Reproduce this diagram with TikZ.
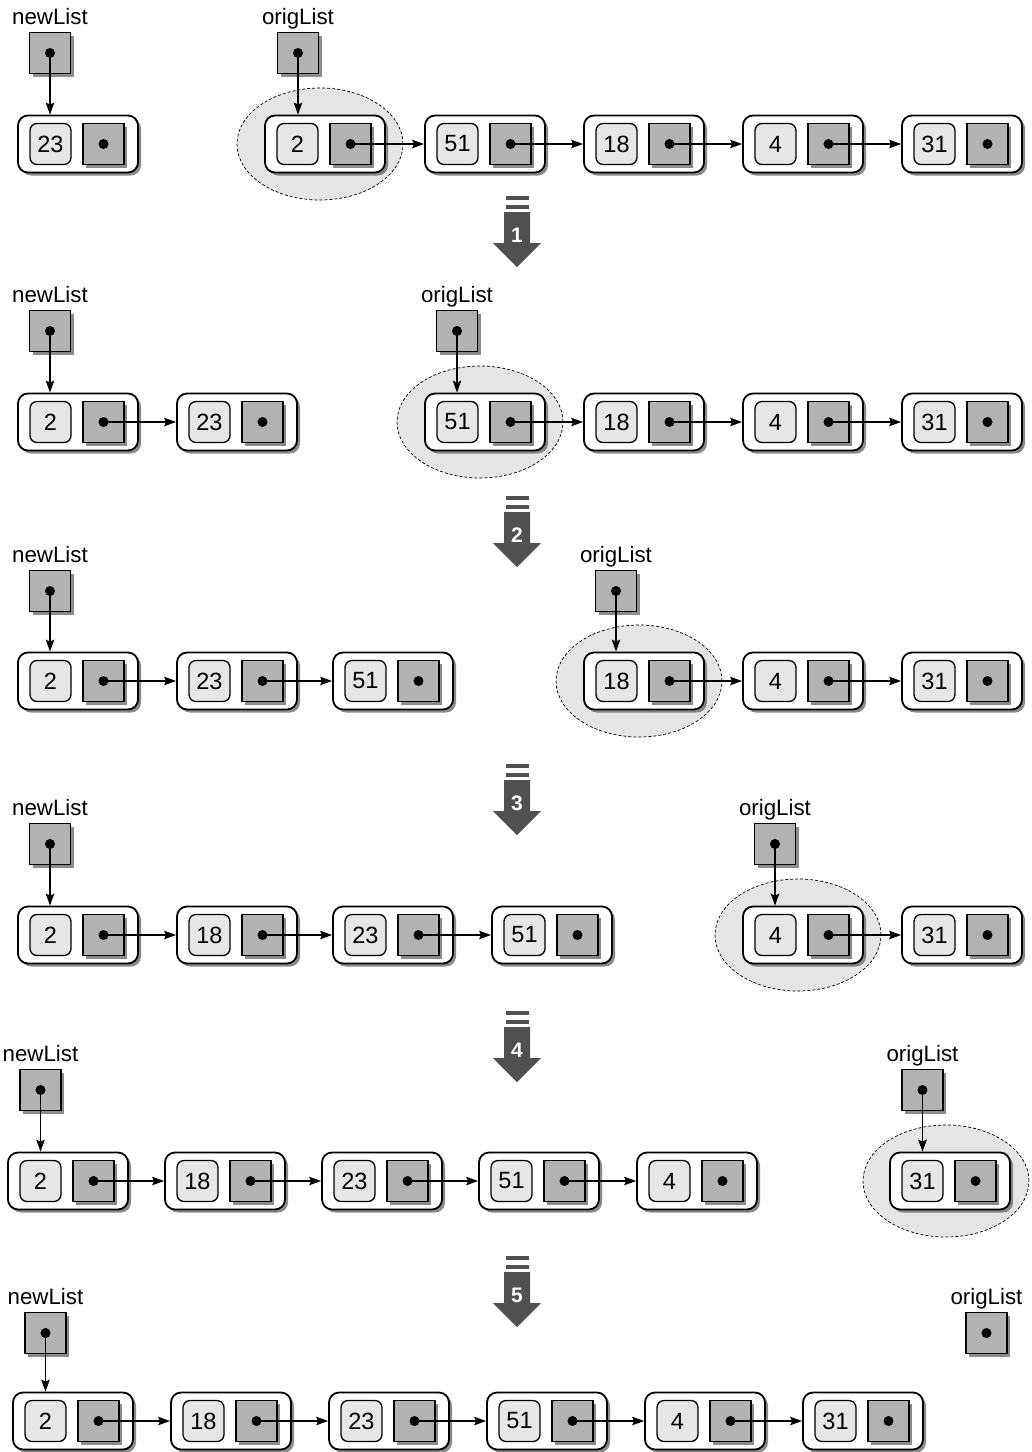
\documentclass[tikz,border=0pt]{standalone}
\usepackage{fontspec}
\setmainfont{Liberation Sans}
\usepackage{tikz}
\usetikzlibrary{positioning, arrows.meta, shadows}
\definecolor{valFill}{RGB}{230,230,230}
\definecolor{ptrFill}{RGB}{178,178,178}
\definecolor{focusFill}{RGB}{229,229,229}
\definecolor{stepDark}{RGB}{80,80,80}
\definecolor{shadowGray}{RGB}{110,110,110}

\begin{document}
\begin{tikzpicture}[
    x=1pt, y=-1pt,
    every node/.style={font=\fontsize{22.3}{26}\selectfont},
    cell/.style={draw, line width=1.8pt, fill=white, rounded corners=10pt,
        minimum width=120pt, minimum height=57pt, inner sep=0pt,
        drop shadow={shadow xshift=3pt, shadow yshift=-3pt, fill=shadowGray, opacity=0.8}},
    valbox/.style={draw, line width=1.3pt, fill=valFill, rounded corners=7pt,
        minimum size=41pt, inner sep=0pt, font=\fontsize{23.5}{27}\selectfont},
    ptrbox/.style={draw, line width=1.3pt, fill=ptrFill, minimum size=41pt, inner sep=0pt,
        drop shadow={shadow xshift=3pt, shadow yshift=-3pt, fill=shadowGray, opacity=0.8}},
    varname/.style={inner sep=0pt, text height=16pt, text depth=5pt},
    link/.style={line width=1.3pt, -{Stealth[length=12pt, width=8.5pt, inset=2pt]}},
    focus/.style={draw=black, fill=focusFill, line width=0.7pt, dash pattern=on 3pt off 2pt},
    stepnum/.style={text=white, inner sep=0pt, font=\fontsize{21}{25}\selectfont\bfseries},
]
% Canvas: x in [0, 1032], y in [0, 1452], y grows downward
\useasboundingbox (0,0) rectangle (1032,1452);

% --- State 0 ---
\draw[focus] (320,144) ellipse [x radius=83pt, y radius=56pt];
\foreach \val/\cx in {23/78, 2/325, 51/485, 18/644, 4/803, 31/962} {
    \node[cell]   (s0n\val)   at (\cx, 144)      {};
    \node[valbox] (s0n\val-v) at (\cx-27.5, 144) {\val};
    \node[ptrbox] (s0n\val-p) at (\cx+25.5, 144) {};
    \fill (s0n\val-p.center) circle (5pt);
}
\foreach \a/\b in {2/51, 51/18, 18/4, 4/31}
    \draw[link] (s0n\a-p.center) -- (s0n\b.west);

\node[ptrbox] (s0new) at (50,53) {};
\node[varname, above=2pt of s0new] (s0new-name) {newList};
\node[ptrbox] (s0orig) at (298,53) {};
\node[varname, above=2pt of s0orig] (s0orig-name) {origList};
\fill (s0new.center) circle (5pt);
\fill (s0orig.center) circle (5pt);
\draw[link] (s0new.center) -- (s0new |- s0n23.north);
\draw[link] (s0orig.center) -- (s0orig |- s0n2.north);

% --- State 1 ---
\draw[focus] (480,422) ellipse [x radius=83pt, y radius=56pt];
\foreach \val/\cx in {2/78, 23/237, 51/485, 18/644, 4/803, 31/962} {
    \node[cell]   (s1n\val)   at (\cx, 422)      {};
    \node[valbox] (s1n\val-v) at (\cx-27.5, 422) {\val};
    \node[ptrbox] (s1n\val-p) at (\cx+25.5, 422) {};
    \fill (s1n\val-p.center) circle (5pt);
}
\foreach \a/\b in {2/23, 51/18, 18/4, 4/31}
    \draw[link] (s1n\a-p.center) -- (s1n\b.west);

\node[ptrbox] (s1new) at (50,331) {};
\node[varname, above=2pt of s1new] (s1new-name) {newList};
\node[ptrbox] (s1orig) at (457,331) {};
\node[varname, above=2pt of s1orig] (s1orig-name) {origList};
\fill (s1new.center) circle (5pt);
\fill (s1orig.center) circle (5pt);
\draw[link] (s1new.center) -- (s1new |- s1n2.north);
\draw[link] (s1orig.center) -- (s1orig |- s1n51.north);

% --- State 2 ---
\draw[focus] (639,681) ellipse [x radius=83pt, y radius=56pt];
\foreach \val/\cx in {2/78, 23/237, 51/393, 18/644, 4/803, 31/962} {
    \node[cell]   (s2n\val)   at (\cx, 681)      {};
    \node[valbox] (s2n\val-v) at (\cx-27.5, 681) {\val};
    \node[ptrbox] (s2n\val-p) at (\cx+25.5, 681) {};
    \fill (s2n\val-p.center) circle (5pt);
}
\foreach \a/\b in {2/23, 23/51, 18/4, 4/31}
    \draw[link] (s2n\a-p.center) -- (s2n\b.west);

\node[ptrbox] (s2new) at (50,591) {};
\node[varname, above=2pt of s2new] (s2new-name) {newList};
\node[ptrbox] (s2orig) at (616,591) {};
\node[varname, above=2pt of s2orig] (s2orig-name) {origList};
\fill (s2new.center) circle (5pt);
\fill (s2orig.center) circle (5pt);
\draw[link] (s2new.center) -- (s2new |- s2n2.north);
\draw[link] (s2orig.center) -- (s2orig |- s2n18.north);

% --- State 3 ---
\draw[focus] (798,935) ellipse [x radius=83pt, y radius=56pt];
\foreach \val/\cx in {2/78, 18/237, 23/393, 51/552, 4/803, 31/962} {
    \node[cell]   (s3n\val)   at (\cx, 935)      {};
    \node[valbox] (s3n\val-v) at (\cx-27.5, 935) {\val};
    \node[ptrbox] (s3n\val-p) at (\cx+25.5, 935) {};
    \fill (s3n\val-p.center) circle (5pt);
}
\foreach \a/\b in {2/18, 18/23, 23/51, 4/31}
    \draw[link] (s3n\a-p.center) -- (s3n\b.west);

\node[ptrbox] (s3new) at (50,844) {};
\node[varname, above=2pt of s3new] (s3new-name) {newList};
\node[ptrbox] (s3orig) at (775,844) {};
\node[varname, above=2pt of s3orig] (s3orig-name) {origList};
\fill (s3new.center) circle (5pt);
\fill (s3orig.center) circle (5pt);
\draw[link] (s3new.center) -- (s3new |- s3n2.north);
\draw[link] (s3orig.center) -- (s3orig |- s3n4.north);

% --- State 4 ---
\draw[focus] (946,1181) ellipse [x radius=83pt, y radius=56pt];
\foreach \val/\cx in {2/68, 18/225, 23/382, 51/539, 4/697, 31/950} {
    \node[cell]   (s4n\val)   at (\cx, 1181)      {};
    \node[valbox] (s4n\val-v) at (\cx-27.5, 1181) {\val};
    \node[ptrbox] (s4n\val-p) at (\cx+25.5, 1181) {};
    \fill (s4n\val-p.center) circle (5pt);
}
\foreach \a/\b in {2/18, 18/23, 23/51, 51/4}
    \draw[link] (s4n\a-p.center) -- (s4n\b.west);

\node[ptrbox] (s4new) at (40.5,1090) {};
\node[varname, above=2pt of s4new] (s4new-name) {newList};
\node[ptrbox] (s4orig) at (922.5,1090) {};
\node[varname, above=2pt of s4orig] (s4orig-name) {origList};
\fill (s4new.center) circle (5pt);
\fill (s4orig.center) circle (5pt);
\draw[link] (s4new.center) -- (s4new |- s4n2.north);
\draw[link] (s4orig.center) -- (s4orig |- s4n31.north);

% --- State 5: origList is empty ---
\foreach \val/\cx in {2/73, 18/231, 23/389, 51/547, 4/705, 31/863} {
    \node[cell]   (s5n\val)   at (\cx, 1421)      {};
    \node[valbox] (s5n\val-v) at (\cx-27.5, 1421) {\val};
    \node[ptrbox] (s5n\val-p) at (\cx+25.5, 1421) {};
    \fill (s5n\val-p.center) circle (5pt);
}
\foreach \a/\b in {2/18, 18/23, 23/51, 51/4, 4/31}
    \draw[link] (s5n\a-p.center) -- (s5n\b.west);

\node[ptrbox] (s5new) at (45.5,1333) {};
\node[varname, above=2pt of s5new] (s5new-name) {newList};
\node[ptrbox] (s5orig) at (986.5,1333) {};
\node[varname, above=2pt of s5orig] (s5orig-name) {origList};
\fill (s5new.center) circle (5pt);
\fill (s5orig.center) circle (5pt);
\draw[link] (s5new.center) -- (s5new |- s5n2.north);

% --- Step arrows between states ---
\foreach \n/\t in {1/196, 2/496, 3/764, 4/1011, 5/1256} {
    \fill[stepDark] (505.5,\t) rectangle (529,\t+4);
    \fill[stepDark] (505.5,\t+9) rectangle (529,\t+13);
    \fill[stepDark] (504,\t+16) -- (530,\t+16) -- (530,\t+47) -- (541,\t+47)
        -- (517,\t+71) -- (493,\t+47) -- (504,\t+47) -- cycle;
    \node[stepnum] (step\n) at (517,\t+39) {\n};
}

\end{tikzpicture}
\end{document}
